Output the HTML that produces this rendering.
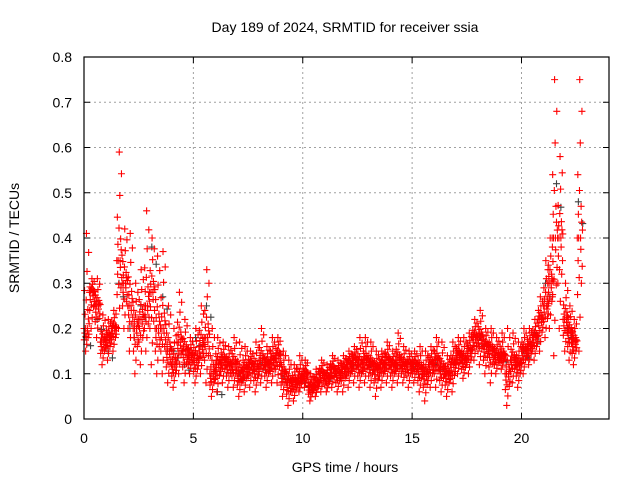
<!DOCTYPE html>
<html><head><meta charset="utf-8"><style>
body{margin:0;background:#fff}
svg{display:block;font-family:"Liberation Sans",sans-serif}
</style></head><body>
<svg id="chart" width="640" height="480">
<text x="345" y="32" font-size="14" text-anchor="middle">Day 189 of 2024, SRMTID for receiver ssia</text>
<text x="345" y="472" font-size="14" text-anchor="middle">GPS time / hours</text>
<text transform="translate(19,238) rotate(-90)" font-size="14" text-anchor="middle">SRMTID / TECUs</text>
<g id="grid"></g>
<g id="ticks"></g>
<g id="gray"></g>
<g id="red"></g>
<rect x="84" y="57" width="525" height="362" fill="none" stroke="#000" stroke-width="1.2"/>
</svg>
<script>
const xTicks=[0,5,10,15,20];
const yTicks=[0,0.1,0.2,0.3,0.4,0.5,0.6,0.7,0.8];
const yTickLabels=["0","0.1","0.2","0.3","0.4","0.5","0.6","0.7","0.8"];
const times=[0,0.25,0.5,0.75,1,1.25,1.5,1.75,2,2.25,2.5,2.75,3,3.25,3.5,3.75,4,4.25,4.5,4.75,5,5.25,5.5,5.75,6,6.25,6.5,6.75,7,7.25,7.5,7.75,8,8.25,8.5,8.75,9,9.25,9.5,9.75,10,10.25,10.5,10.75,11,11.25,11.5,11.75,12,12.25,12.5,12.75,13,13.25,13.5,13.75,14,14.25,14.5,14.75,15,15.25,15.5,15.75,16,16.25,16.5,16.75,17,17.25,17.5,17.75,18,18.25,18.5,18.75,19,19.25,19.5,19.75,20,20.25,20.5,20.75,21,21.2,21.4,21.65,21.9,22.1,22.3,22.55];
const lowVals=[.15,.2,.18,.12,.13,.15,.2,.2,.15,.1,.12,.15,.12,.1,.1,.08,.07,.1,.08,.1,.08,.1,.08,.05,.06,.08,.07,.07,.05,.06,.07,.06,.08,.07,.08,.08,.05,.03,.04,.06,.07,.04,.05,.06,.06,.07,.06,.06,.07,.08,.07,.08,.07,.05,.07,.08,.07,.08,.08,.07,.08,.06,.04,.07,.07,.06,.05,.06,.1,.09,.1,.13,.12,.1,.08,.1,.11,.03,.08,.07,.1,.12,.13,.15,.18,.2,.14,.2,.15,.13,.12,.15];
const midVals=[.2,.28,.25,.17,.18,.2,.35,.3,.25,.2,.22,.25,.28,.2,.2,.15,.12,.17,.15,.14,.13,.16,.18,.1,.12,.13,.12,.12,.1,.11,.12,.11,.13,.12,.13,.14,.1,.08,.08,.09,.1,.07,.08,.1,.09,.11,.1,.11,.12,.13,.12,.13,.12,.11,.12,.13,.12,.13,.12,.12,.12,.11,.1,.12,.13,.11,.1,.12,.14,.13,.15,.18,.18,.16,.15,.14,.14,.1,.13,.12,.15,.16,.18,.22,.25,.3,.4,.4,.22,.19,.17,.4];
const highVals=[.41,.31,.31,.23,.22,.24,.59,.42,.41,.3,.33,.46,.4,.36,.37,.25,.2,.28,.22,.18,.2,.25,.33,.2,.18,.17,.16,.18,.17,.16,.15,.17,.2,.16,.18,.18,.15,.13,.12,.14,.13,.1,.11,.13,.12,.14,.13,.14,.15,.16,.18,.18,.17,.15,.15,.17,.15,.19,.16,.15,.15,.16,.15,.16,.18,.17,.14,.17,.18,.18,.19,.22,.24,.2,.2,.18,.19,.2,.19,.17,.2,.2,.22,.27,.35,.4,.75,.58,.3,.25,.22,.75];
const grayTimes=[0.1,0.6,1.1,1.6,2.1,2.6,3.1,3.6,4.1,4.6,5.1,5.6,6.1,7.1,8.1,9.1,10.1,11.1,12.1,13.1,14.1,15.1,16.1,17.1,18.1,19.1,20.1,20.6,21.1,21.6,22.1,22.6];
const grayVals=[.18,.22,.15,.3,.2,.25,.38,.27,.15,.12,.18,.25,.06,.1,.12,.09,.08,.1,.13,.12,.13,.11,.12,.15,.18,.14,.15,.19,.3,.52,.2,.48];
const X=t=>84+t*21.875, Y=v=>419-v*452.5;
const NS="http://www.w3.org/2000/svg";
function mk(tag,a,p){const e=document.createElementNS(NS,tag);for(const k in a)e.setAttribute(k,a[k]);p.appendChild(e);return e;}
const grid=document.getElementById('grid'),ticks=document.getElementById('ticks');
xTicks.forEach(t=>{const x=X(t);
 if(t>0){const g=mk('line',{x1:x,x2:x,y1:57,y2:419,stroke:'#a0a0a0','stroke-dasharray':'2,3'},grid);
 
 }
 mk('line',{x1:x,x2:x,y1:419,y2:413,stroke:'#000'},ticks);mk('line',{x1:x,x2:x,y1:57,y2:63,stroke:'#000'},ticks);
 const l=mk('text',{x:x,y:443,'font-size':14,'text-anchor':'middle'},ticks);l.textContent=t;
 
 });
yTicks.forEach((v,i)=>{const y=Y(v);
 if(i>0&&i<yTicks.length-1){const g=mk('line',{x1:84,x2:609,y1:y,y2:y,stroke:'#a0a0a0','stroke-dasharray':'2,3'},grid);
 
 }
 mk('line',{x1:84,x2:90,y1:y,y2:y,stroke:'#000'},ticks);mk('line',{x1:603,x2:609,y1:y,y2:y,stroke:'#000'},ticks);
 const l=mk('text',{x:72,y:y+5,'font-size':14,'text-anchor':'end'},ticks);l.textContent=yTickLabels[i];
 
 });
function plus(g,t,v,c){const x=X(t),y=Y(v);
 const p=mk('path',{d:`M${x-3.5} ${y}H${x+3.5}M${x} ${y-3.5}V${y+3.5}`,stroke:c,'stroke-width':1.1,fill:'none'},g);
 
 }
const gg=document.getElementById('gray'),rg=document.getElementById('red');
grayTimes.forEach((t,i)=>{plus(gg,t,grayVals[i],'#404040');plus(gg,t+0.2,grayVals[i]*0.9,'#404040');});
const fr=[0,-0.5,0.4,-0.2,0.15,0,-1,-0.35,0.3,1,-0.7,0.6,0,-0.1,0.2,-0.4,0.1,0.8,-0.25,0.05];
times.forEach((t,i)=>{const lo=lowVals[i],mi=midVals[i],hi=highVals[i];
 fr.forEach((f,k)=>{const v=f<0?mi+f*(mi-lo):mi+f*(hi-mi);
  plus(rg,t+k*0.0125,v,'#f00');});});
</script>
</body></html>
